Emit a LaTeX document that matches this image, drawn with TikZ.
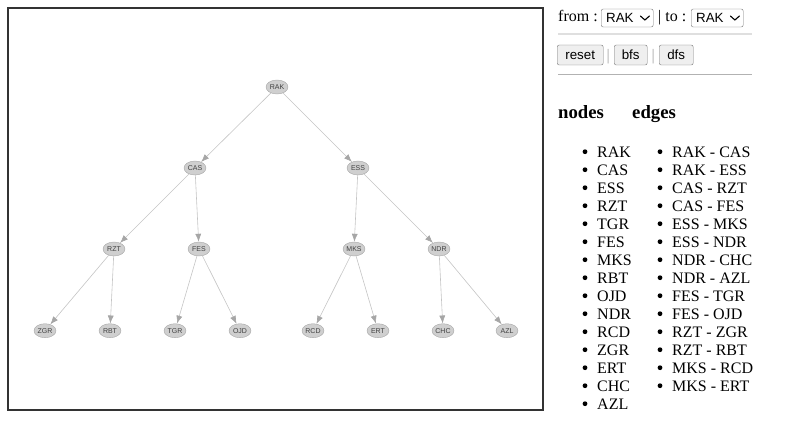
\documentclass[tikz,border=0pt]{standalone}
\usepackage{fontspec}
\setmainfont{Liberation Serif}
\newfontfamily\arialfont{Liberation Sans}
\usetikzlibrary{arrows.meta,shapes.geometric}

\definecolor{cityfill}{HTML}{CFCFCF}
\definecolor{cityline}{HTML}{A6A6A6}
\definecolor{edgeline}{HTML}{C4C4C4}
\definecolor{btnfill}{HTML}{EFEFEF}
\definecolor{btnline}{HTML}{767676}

\begin{document}
\begin{tikzpicture}[x=1pt, y=-1pt,
  city/.style={ellipse, draw=cityline, fill=cityfill, inner sep=0pt, minimum width=22pt, minimum height=14pt,
    font=\arialfont\fontsize{7}{8}\selectfont, text=black!75},
  link/.style={draw=edgeline, line width=0.6pt, -{Latex[length=8pt,width=6pt,color=cityline]}},
  serif/.style={anchor=base west, inner sep=0pt, font=\fontsize{16}{18}\selectfont},
  selectbox/.style={draw=btnline, fill=white, rounded corners=2pt, anchor=west, minimum width=52pt, minimum height=18pt, inner sep=0pt},
  button/.style={draw=btnline, fill=btnfill, rounded corners=2pt, anchor=west, minimum height=20pt, inner sep=0pt,
    font=\arialfont\fontsize{13.33}{15}\selectfont},
  sans/.style={anchor=west, inner sep=0pt, font=\arialfont\fontsize{13.33}{15}\selectfont}]
	\useasboundingbox (0,0) rectangle (800,436);
	\draw[line width=2pt, color=black!80] (8,8) rectangle (543,410);
	% tree
	\node[city] (RAK) at (277,87) {RAK};
	\node[city] (CAS) at (195,168) {CAS};
	\node[city] (ESS) at (358,168) {ESS};
	\node[city] (RZT) at (114,249) {RZT};
	\node[city] (FES) at (199,249) {FES};
	\node[city] (MKS) at (354,249) {MKS};
	\node[city] (NDR) at (439,249) {NDR};
	\node[city] (ZGR) at (45,330.7) {ZGR};
	\node[city] (RBT) at (110,330.7) {RBT};
	\node[city] (TGR) at (175,330.7) {TGR};
	\node[city] (OJD) at (240,330.7) {OJD};
	\node[city] (RCD) at (313,330.7) {RCD};
	\node[city] (ERT) at (378,330.7) {ERT};
	\node[city] (CHC) at (443,330.7) {CHC};
	\node[city] (AZL) at (507,330.7) {AZL};
	% form
	\node[serif] (from) at (558,21.5) {from :};
	\node[selectbox] (selfrom) at (601,18) {};
	\node[sans] at ([xshift=5pt]selfrom.west) {RAK};
	\draw[line width=1.1pt, line cap=round] ([xshift=-13pt,yshift=2pt]selfrom.east) -- ++(4.5,4) -- ++(4.5,-4);
	\node[serif] (to) at (658,21.5) {| to :};
	\node[selectbox] (selto) at (691,18) {};
	\node[sans] at ([xshift=5pt]selto.west) {RAK};
	\draw[line width=1.1pt, line cap=round] ([xshift=-13pt,yshift=2pt]selto.east) -- ++(4.5,4) -- ++(4.5,-4);
	\draw[line width=2pt, color=gray!25] (558,34) -- (752,34);
	\node[button, minimum width=46pt] (reset) at (557,55) {reset};
	\node[serif, text=gray!70] at (606.5,60.5) {|};
	\node[button, minimum width=33pt] (bfs) at (614,55) {bfs};
	\node[serif, text=gray!70] at (651.5,60.5) {|};
	\node[button, minimum width=34pt] (dfs) at (659,55) {dfs};
	\draw[line width=1pt, color=gray!60] (558,74) -- (752,74);
	% lists
	\node[serif, font=\bfseries\fontsize{18.72}{21}\selectfont] (nodes) at (558,118.5) {nodes};
	\node[serif, font=\bfseries\fontsize{18.72}{21}\selectfont] (edges) at (632,118.5) {edges};
	\foreach \c [count=\i from 0] in {RAK,CAS,ESS,RZT,TGR,FES,MKS,RBT,OJD,NDR,RCD,ZGR,ERT,CHC,AZL} {
		\fill (585,{151.7+18*\i}) circle (2.4);
		\node[serif] (item-\c) at (597,{157.3+18*\i}) {\c};
	}
	\foreach \a/\b [count=\i from 0] in {RAK/CAS,RAK/ESS,CAS/RZT,CAS/FES,ESS/MKS,ESS/NDR,NDR/CHC,NDR/AZL,
		FES/TGR,FES/OJD,RZT/ZGR,RZT/RBT,MKS/RCD,MKS/ERT} {
		\draw[link] (\a) -- (\b);
		\fill (660,{151.7+18*\i}) circle (2.4);
		\node[serif] (pair-\i) at (672,{157.3+18*\i}) {\a\ - \b};
	}
\end{tikzpicture}
\end{document}
